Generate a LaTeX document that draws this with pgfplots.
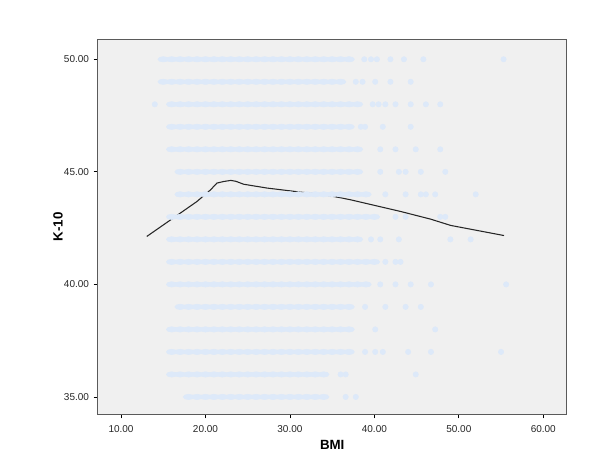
\documentclass[border=0pt]{standalone}
\usepackage{pgfplots}
\pgfplotsset{compat=1.18}
\usepackage{fontspec}
\setmainfont{Liberation Sans}
\definecolor{plotbg}{RGB}{240,240,240}
\definecolor{framegray}{RGB}{90,90,90}
\definecolor{dotblue}{RGB}{221,233,249}

\begin{document}
\begin{tikzpicture}
\useasboundingbox (-73.3pt,-44.8pt) rectangle (376.7pt,310.7pt);
\begin{axis}[
    at={(0,0)}, anchor=south west,
    scale only axis,
    width=351.75pt, height=281.25pt,
    xmin=7.24, xmax=62.78,
    ymin=34.23, ymax=50.89,
    xtick={10,20,30,40,50,60},
    ytick={35,40,45,50},
    tick pos=left,
    tick align=outside,
    major tick length=3pt,
    tick style={draw=black, line width=0.6pt},
    axis line style={draw=framegray, line width=1pt},
    axis background/.style={fill=plotbg},
    ticklabel style={font=\fontsize{7.5}{9}\selectfont, text=black!85},
    xticklabel style={yshift=-2pt},
    /pgf/number format/.cd, fixed, fixed zerofill, precision=2, assume math mode=true,
    /pgfplots/.cd,
    xlabel={\textbf{BMI}},
    ylabel={\textbf{K-10}},
    label style={font=\fontsize{10}{12}\selectfont},
    xlabel style={at={(axis description cs:0.5,0)}, yshift=-16pt},
    ylabel style={yshift=-6pt},
    clip=false,
]
% dense parts of each row
\addplot[only marks, color=dotblue, mark=*, mark size=2pt, mark options={xscale=2, draw=dotblue, fill=dotblue}] coordinates {
(15,50)(16,50)(17,50)(18,50)(19,50)(20,50)(21,50)(22,50)(23,50)(24,50)(25,50)(26,50)(27,50)(28,50)(29,50)(30,50)(31,50)(32,50)(33,50)(34,50)(35,50)(36,50)(37,50)
(15,49)(16,49)(17,49)(18,49)(19,49)(20,49)(21,49)(22,49)(23,49)(24,49)(25,49)(26,49)(27,49)(28,49)(29,49)(30,49)(31,49)(32,49)(33,49)(34,49)(35,49)(36,49)
(16,48)(17,48)(18,48)(19,48)(20,48)(21,48)(22,48)(23,48)(24,48)(25,48)(26,48)(27,48)(28,48)(29,48)(30,48)(31,48)(32,48)(33,48)(34,48)(35,48)(36,48)(37,48)(38,48)
(16,47)(17,47)(18,47)(19,47)(20,47)(21,47)(22,47)(23,47)(24,47)(25,47)(26,47)(27,47)(28,47)(29,47)(30,47)(31,47)(32,47)(33,47)(34,47)(35,47)(36,47)(37,47)
(16,46)(17,46)(18,46)(19,46)(20,46)(21,46)(22,46)(23,46)(24,46)(25,46)(26,46)(27,46)(28,46)(29,46)(30,46)(31,46)(32,46)(33,46)(34,46)(35,46)(36,46)(37,46)(38,46)
(17,45)(18,45)(19,45)(20,45)(21,45)(22,45)(23,45)(24,45)(25,45)(26,45)(27,45)(28,45)(29,45)(30,45)(31,45)(32,45)(33,45)(34,45)(35,45)(36,45)(37,45)(38,45)
(17,44)(18,44)(19,44)(20,44)(21,44)(22,44)(23,44)(24,44)(25,44)(26,44)(27,44)(28,44)(29,44)(30,44)(31,44)(32,44)(33,44)(34,44)(35,44)(36,44)(37,44)(38,44)(39,44)
(16,43)(17,43)(18,43)(19,43)(20,43)(21,43)(22,43)(23,43)(24,43)(25,43)(26,43)(27,43)(28,43)(29,43)(30,43)(31,43)(32,43)(33,43)(34,43)(35,43)(36,43)(37,43)(38,43)(39,43)(40,43)
(16,42)(17,42)(18,42)(19,42)(20,42)(21,42)(22,42)(23,42)(24,42)(25,42)(26,42)(27,42)(28,42)(29,42)(30,42)(31,42)(32,42)(33,42)(34,42)(35,42)(36,42)(37,42)(38,42)
(16,41)(17,41)(18,41)(19,41)(20,41)(21,41)(22,41)(23,41)(24,41)(25,41)(26,41)(27,41)(28,41)(29,41)(30,41)(31,41)(32,41)(33,41)(34,41)(35,41)(36,41)(37,41)(38,41)(39,41)(40,41)
(16,40)(17,40)(18,40)(19,40)(20,40)(21,40)(22,40)(23,40)(24,40)(25,40)(26,40)(27,40)(28,40)(29,40)(30,40)(31,40)(32,40)(33,40)(34,40)(35,40)(36,40)(37,40)(38,40)(39,40)
(17,39)(18,39)(19,39)(20,39)(21,39)(22,39)(23,39)(24,39)(25,39)(26,39)(27,39)(28,39)(29,39)(30,39)(31,39)(32,39)(33,39)(34,39)(35,39)(36,39)(37,39)
(16,38)(17,38)(18,38)(19,38)(20,38)(21,38)(22,38)(23,38)(24,38)(25,38)(26,38)(27,38)(28,38)(29,38)(30,38)(31,38)(32,38)(33,38)(34,38)(35,38)(36,38)(37,38)
(16,37)(17,37)(18,37)(19,37)(20,37)(21,37)(22,37)(23,37)(24,37)(25,37)(26,37)(27,37)(28,37)(29,37)(30,37)(31,37)(32,37)(33,37)(34,37)(35,37)(36,37)(37,37)
(16,36)(17,36)(18,36)(19,36)(20,36)(21,36)(22,36)(23,36)(24,36)(25,36)(26,36)(27,36)(28,36)(29,36)(30,36)(31,36)(32,36)(33,36)(34,36)
(18,35)(19,35)(20,35)(21,35)(22,35)(23,35)(24,35)(25,35)(26,35)(27,35)(28,35)(29,35)(30,35)(31,35)(32,35)(33,35)(34,35)
};
% scattered points
\addplot[only marks, color=dotblue, mark=*, mark size=2pt, mark options={draw=dotblue, fill=dotblue}] coordinates {
(38.8,50)(39.6,50)(40.3,50)(41.9,50)(43.5,50)(45.8,50)(55.3,50)
(37.8,49)(38.6,49)(40.1,49)(41.9,49)(44.3,49)
(14.0,48)(39.8,48)(40.5,48)(41.3,48)(42.5,48)(44.3,48)(46.1,48)(47.8,48)
(38.4,47)(38.9,47)(41.0,47)(44.3,47)
(40.7,46)(42.5,46)(44.9,46)(47.8,46)
(40.7,45)(42.9,45)(43.7,45)(45.5,45)(48.4,45)
(41.3,44)(43.7,44)(45.5,44)(46.1,44)(47.2,44)(52.0,44)
(42.5,43)(43.7,43)(47.8,43)(48.4,43)
(39.6,42)(40.7,42)(42.9,42)(49.0,42)(51.4,42)
(41.3,41)(42.5,41)(43.1,41)
(40.7,40)(42.5,40)(44.3,40)(46.7,40)(55.6,40)
(38.9,39)(41.3,39)(43.7,39)(45.5,39)
(40.1,38)(47.2,38)
(38.9,37)(40.1,37)(41.0,37)(44.0,37)(46.7,37)(55.0,37)
(36.0,36)(36.6,36)(44.9,36)
(36.6,35)(37.8,35)
};
% loess fit line
\addplot[black!85, line width=0.8pt] coordinates {
(13.05,42.13)(16.0,42.90)(18.98,43.68)(20.6,44.20)(21.35,44.50)(22.14,44.57)(23.0,44.62)(23.6,44.58)(24.51,44.45)(27.28,44.28)(31.23,44.10)(33.6,44.01)(35.98,43.85)(37.16,43.76)(43.10,43.24)(46.65,42.90)(49.03,42.62)(55.35,42.17)
};
\end{axis}
\end{tikzpicture}
\end{document}
